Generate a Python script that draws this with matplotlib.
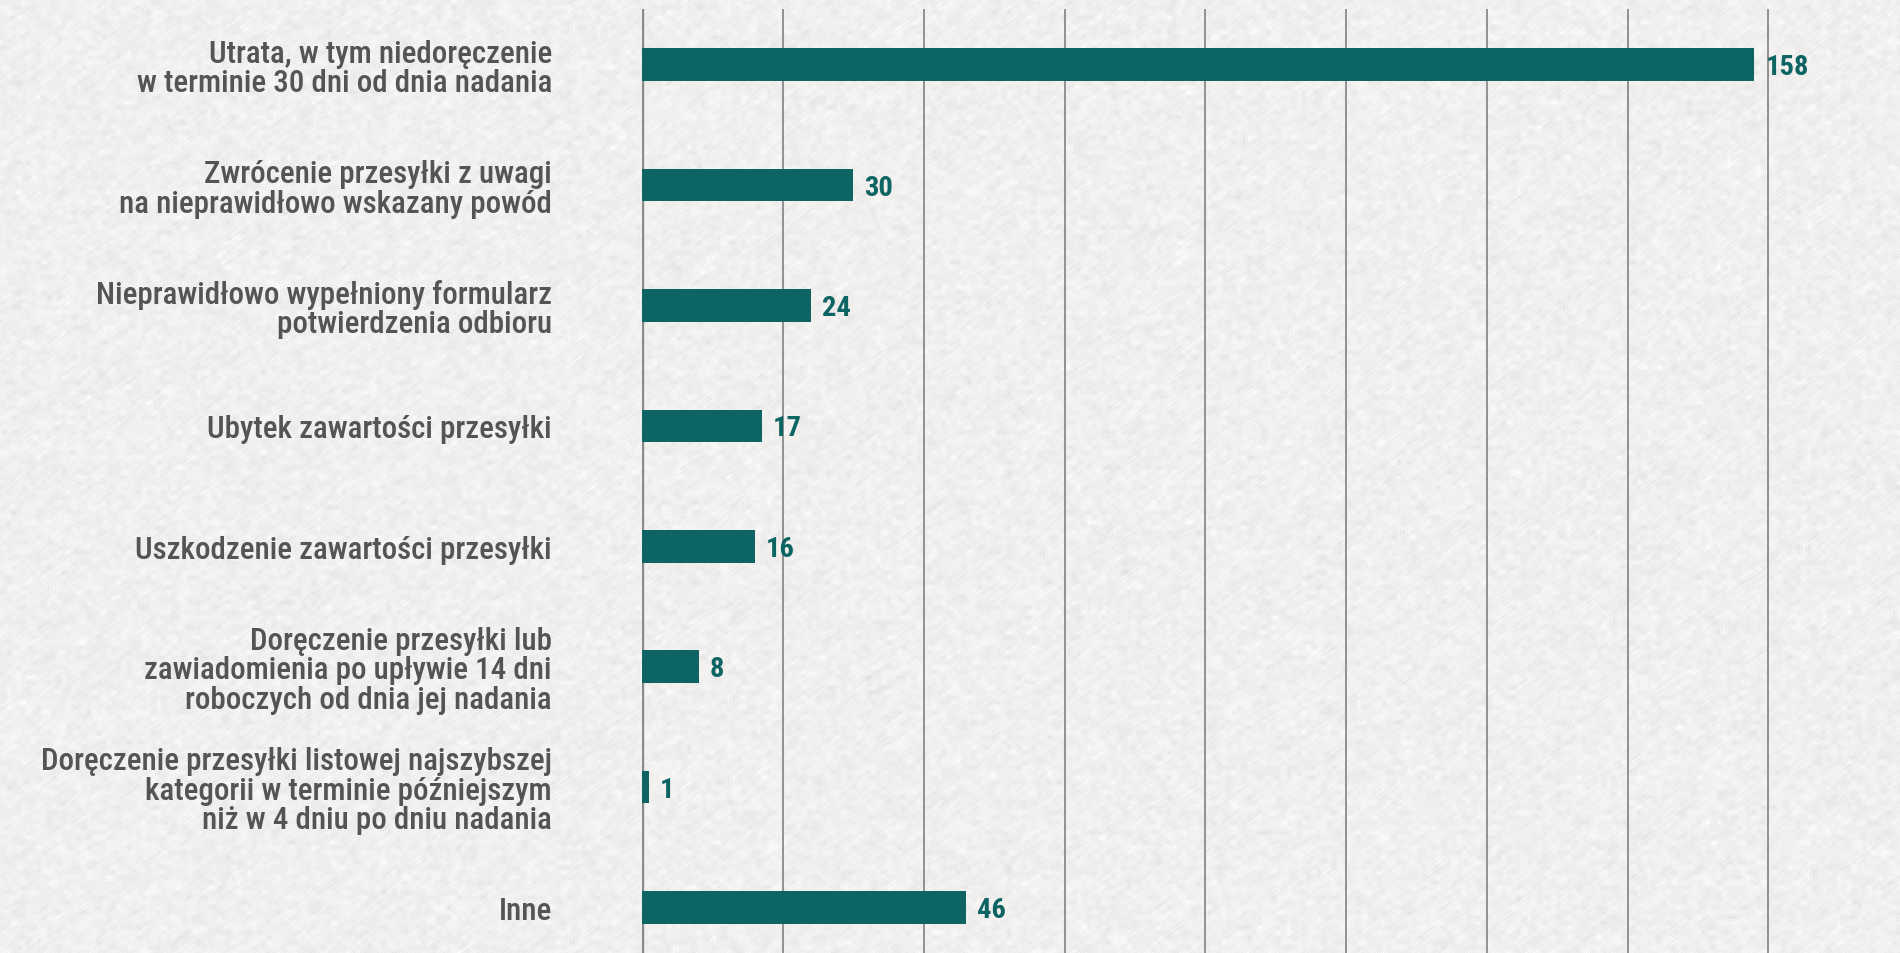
import matplotlib
matplotlib.use("Agg")
import numpy as np
import matplotlib.pyplot as plt
from matplotlib import font_manager

categories = [
    "Utrata, w tym niedoręczenie\nw terminie 30 dni od dnia nadania",
    "Zwrócenie przesyłki z uwagi\nna nieprawidłowo wskazany powód",
    "Nieprawidłowo wypełniony formularz\npotwierdzenia odbioru",
    "Ubytek zawartości przesyłki",
    "Uszkodzenie zawartości przesyłki",
    "Doręczenie przesyłki lub\nzawiadomienia po upływie 14 dni\nroboczych od dnia jej nadania",
    "Doręczenie przesyłki listowej najszybszej\nkategorii w terminie późniejszym\nniż w 4 dniu po dniu nadania",
    "Inne",
]
values = [158, 30, 24, 17, 16, 8, 1, 46]
grid_ticks = [0, 20, 40, 60, 80, 100, 120, 140, 160]

# pick a narrow face if one is around
names = {f.name for f in font_manager.fontManager.ttflist}
family = "DejaVu Sans"
for cand in ["Roboto Condensed", "Liberation Sans Narrow", "Roboto"]:
    if cand in names:
        family = cand
        break

bg = "#f1f0ed"
teal = "#0c6463"
text_grey = "#545454"

W, H = 1900, 954
fig = plt.figure(figsize=(W / 100, H / 100), dpi=100)
fig.patch.set_facecolor(bg)

# paper-like backdrop: diagonal smears of noise plus some blotches
rng = np.random.default_rng(7)
noise = rng.normal(0, 1, (H, W))
streak = np.zeros_like(noise)
for k in range(-5, 6):
    streak += np.roll(np.roll(noise, k, axis=0), -int(round(1.4 * k)), axis=1)
streak /= np.sqrt(11)
blot = rng.normal(0, 1, (H // 5 + 1, W // 5 + 1))
blot = np.kron(blot, np.ones((5, 5)))[:H, :W]
blot = (blot + np.roll(blot, 2, 0) + np.roll(blot, 3, 1) + np.roll(blot, (2, 3), (0, 1))) / 2
shade = 241 + 2.6 * streak + 1.8 * blot
paper = np.stack([shade, shade - 1, shade - 3], axis=-1)
paper = np.clip(paper, 0, 255).astype(np.uint8)
fig.figimage(paper, 0, 0, zorder=-5)

ax = fig.add_axes([0.338, 0.0, 0.662, 0.9895])
ax.set_zorder(2)
ax.patch.set_alpha(0)

y = list(range(len(values)))
ax.barh(y, values, height=0.27, color=teal, zorder=3)

ax.set_xlim(0, 178.7)
ax.set_ylim(7.378, -0.4626)

for t in grid_ticks:
    ax.axvline(t, color="#8a8a8a", lw=2.4 if t == 0 else 1.3, zorder=2)

for yi, v in zip(y, values):
    ax.annotate(str(v), (v, yi), xytext=(11, -2), textcoords="offset pixels",
                ha="left", va="center", color=teal, fontsize=20.5,
                fontweight="bold", family=family)

ax.set_yticks(y)
ax.set_yticklabels(categories)
ax.tick_params(axis="y", length=0, pad=65)
for lab in ax.get_yticklabels():
    lab.set_fontsize(22.3)
    lab.set_family(family)
    lab.set_fontweight("medium")
    lab.set_color(text_grey)
    lab.set_linespacing(1.02)
ax.set_xticks([])
for s in ax.spines.values():
    s.set_visible(False)

fig.savefig("out.png", dpi=100)
